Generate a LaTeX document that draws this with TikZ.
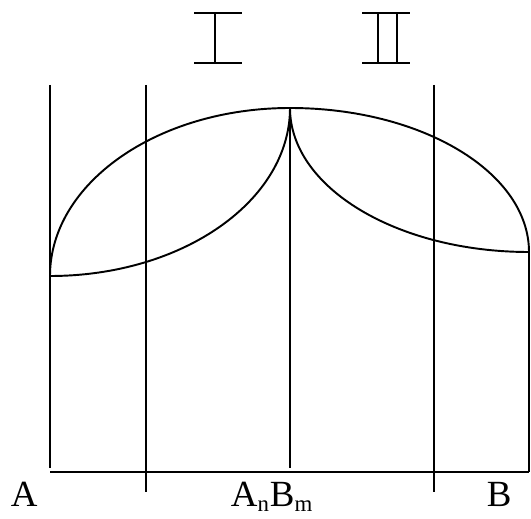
\documentclass[tikz,border=0pt]{standalone}
\usepackage{fontspec}
\setmainfont{Liberation Serif}
\usepackage{tikz}

\begin{document}
\begin{tikzpicture}[x=0.02cm,y=0.02cm,line width=1.1pt,
  every node/.style={font=\fontsize{21}{23}\selectfont,inner sep=0pt}]
  \useasboundingbox (0,0) rectangle (531,518);
  % verticals
  \draw (50,433) -- (50,50);
  \draw (146,433) -- (146,26);
  \draw (290,410) -- (290,50);
  \draw (434,433) -- (434,26);
  \draw (529,266) -- (529,46);
  \draw (50,46) -- (529,46);
  % curves
  \draw (50,242) arc (180:90:240 and 168);
  \draw (290,410) arc (180:270:239 and 144);
  \draw (50,242) arc (270:360:240 and 168);
  \draw (290,410) arc (90:0:239 and 144);
  % numerals
  \begin{scope}
    \draw (194,505) -- (242,505);
    \draw (194,455) -- (242,455);
    \draw (215,505) -- (215,455);
    \draw (362,505) -- (410,505);
    \draw (362,455) -- (410,455);
    \draw (378,505) -- (378,455);
    \draw (397,505) -- (397,455);
  \end{scope}
  \node[anchor=base west] (labelA) at (10,11.5) {A};
  \node[anchor=base west] (labelAB) at (230,11.5) {A\textsubscript{\fontsize{13}{14}\selectfont n}B\textsubscript{\fontsize{13}{14}\selectfont m}};
  \node[anchor=base west] (labelB) at (486,11.5) {B};
\end{tikzpicture}
\end{document}
